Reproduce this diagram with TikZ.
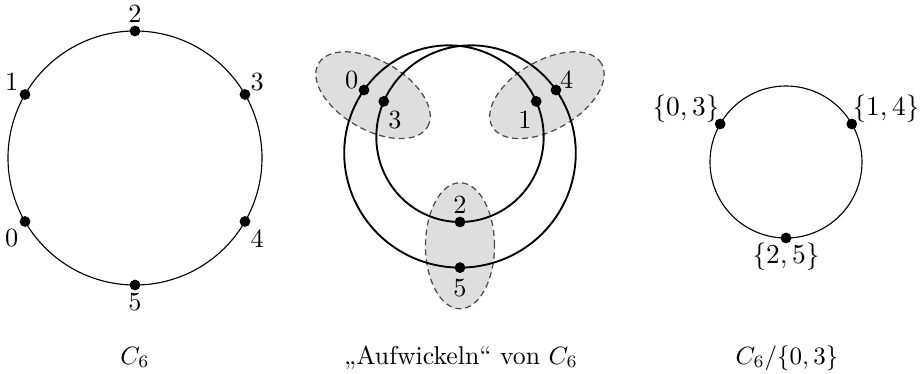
\documentclass[tikz,border=0pt]{standalone}
\usetikzlibrary{calc}
\begin{document}
\begin{tikzpicture}[x=0.4pt,y=0.4pt,
  dot/.style={circle,fill=black,draw=none,inner sep=0pt,minimum size=4.3pt},
  lbl/.style={inner sep=0pt,font=\fontsize{10.5}{12}\selectfont},
  caption/.style={inner sep=0pt,anchor=base,font=\fontsize{10.3}{12}\selectfont},
  thincirc/.style={line width=0.45pt},
  thickcurve/.style={line width=0.75pt},
  blob/.style={draw=black!70,dashed,dash pattern=on 2.4pt off 1.6pt,fill=black!13,line width=0.5pt}]
\useasboundingbox (0,0) rectangle (923,-374);

% ---------- left: C6 ----------
\coordinate (lc) at (135,-158);
\draw[thincirc] (lc) circle[radius=127];
\foreach \i/\a in {0/210,1/150,2/90,3/30,4/330,5/270}
  \node[dot] (L\i) at ($(lc)+(\a:127)$) {};
\node[lbl] (l0) at (11.7,-238.3) {0};
\node[lbl] (l1) at (11.7,-81.7) {1};
\node[lbl] (l2) at (135,-13.3) {2};
\node[lbl] (l3) at (257.3,-81.7) {3};
\node[lbl] (l4) at (257.3,-238.3) {4};
\node[lbl] (l5) at (135,-301.7) {5};
\node[caption] (c1) at (135,-364) {$C_6$};

% ---------- middle: Aufwickeln ----------
\coordinate (mc) at (460,-145.4);
\draw[blob] ($(mc)+(150:100.4)$) circle[x radius=63, y radius=34.5, rotate=-30];
\draw[blob] ($(mc)+(30:100.4)$) circle[x radius=63, y radius=34.5, rotate=30];
\draw[blob] ($(mc)+(270:100.4)$) circle[x radius=34.5, y radius=63];
\draw[thickcurve] plot[domain=0:720, samples=241, smooth, variable=\t]
  ({460+(99.4+22.8*sin(\t/2))*cos(90+\t)}, {-145.4+(99.4+22.8*sin(\t/2))*sin(90+\t)});
\node[dot] (M0) at ($(mc)+(150:110.8)$) {};
\node[dot] (M3) at ($(mc)+(150:88)$) {};
\node[dot] (M4) at ($(mc)+(30:110.8)$) {};
\node[dot] (M1) at ($(mc)+(30:88)$) {};
\node[dot] (M5) at ($(mc)+(270:122.2)$) {};
\node[dot] (M2) at ($(mc)+(270:76.6)$) {};
\node[lbl] (m0) at (351.7,-80) {0};
\node[lbl] (m3) at (395,-120) {3};
\node[lbl] (m4) at (566.7,-80) {4};
\node[lbl] (m1) at (525,-120) {1};
\node[lbl] (m2) at (460,-205) {2};
\node[lbl] (m5) at (460,-288.3) {5};
\node[caption] (c2) at (461,-364) {„Aufwickeln“ von $C_6$};

% ---------- right: quotient ----------
\coordinate (rc) at (786,-162);
\draw[thincirc] (rc) circle[radius=76];
\node[dot] (R03) at ($(rc)+(150:76)$) {};
\node[dot] (R14) at ($(rc)+(30:76)$) {};
\node[dot] (R25) at ($(rc)+(270:76)$) {};
\node[lbl] (r03) at (686,-109) {$\{0,3\}$};
\node[lbl] (r14) at (886,-109) {$\{1,4\}$};
\node[lbl] (r25) at (786,-257) {$\{2,5\}$};
\node[caption] (c3) at (787,-364) {$C_6/\{0,3\}$};
\end{tikzpicture}
\end{document}
